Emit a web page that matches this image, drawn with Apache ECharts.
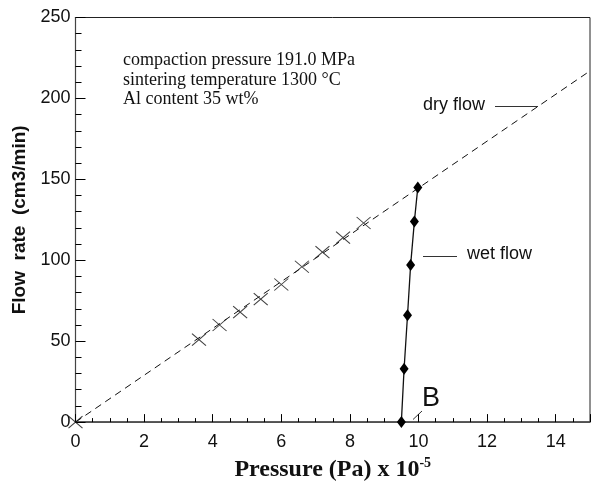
<!DOCTYPE html>
<html>
<head>
<meta charset="utf-8">
<script src="https://cdn.jsdelivr.net/npm/echarts@6/dist/echarts.min.js"></script>
<style>
  html, body { margin: 0; padding: 0; background: #fff; }
  #chart { width: 593px; height: 489px; }
</style>
</head>
<body>
<div id="chart"></div>
<script>
// Dry flow measurements: pressure (x 10^-5 Pa) and flow rate (cm3/min)
const dryPressure = [0, 3.6, 4.2, 4.8, 5.4, 6.0, 6.6, 7.2, 7.8, 8.4];
const dryFlow     = [0, 51, 60, 68, 76, 85, 96, 105, 114, 123];

// Fitted dry-flow line end points
const dryFitPressure = [0, 15];
const dryFitFlow     = [0, 217];

// Wet flow measurements
const wetPressure = [9.5, 9.58, 9.68, 9.77, 9.88, 9.98];
const wetFlow     = [0, 33, 66, 97, 124, 145];

// Axis ranges
const xRange = [0, 15];
const yRange = [0, 250];

const zip = (xs, ys) => xs.map((x, i) => [x, ys[i]]);

const sans = '"Liberation Sans", Arial, Helvetica, sans-serif';
const serif = '"Liberation Serif", "Times New Roman", serif';
const ink = '#111';

const chart = echarts.init(document.getElementById('chart'), null, { renderer: 'canvas' });

chart.setOption({
  animation: false,
  backgroundColor: '#fff',
  grid: {
    left: 75.5, right: 0.5, top: 17.5, bottom: 64,
    show: true, borderColor: '#222', borderWidth: 1, backgroundColor: 'transparent'
  },
  xAxis: {
    type: 'value',
    min: xRange[0], max: xRange[1], interval: 2,
    axisLine: { show: true, lineStyle: { color: '#444', width: 1.5 } },
    axisTick: { show: true, inside: true, length: 8, lineStyle: { color: '#000', width: 1 } },
    minorTick: { show: true, splitNumber: 4, length: 4, lineStyle: { color: '#000', width: 1 } },
    splitLine: { show: false },
    axisLabel: {
      fontFamily: sans, fontSize: 18, color: ink, margin: 11,
      formatter: v => (v > 14 ? '' : String(v))
    },
    name: '{a|Pressure (Pa) x 10}{s|-5}',
    nameLocation: 'middle',
    nameGap: 31,
    nameTextStyle: {
      rich: {
        a: { fontFamily: serif, fontWeight: 'bold', fontSize: 24, color: ink, lineHeight: 28 },
        s: { fontFamily: serif, fontWeight: 'bold', fontSize: 14, color: ink, verticalAlign: 'top', lineHeight: 28, padding: [0, 0, 14, 0] }
      }
    }
  },
  yAxis: {
    type: 'value',
    min: yRange[0], max: yRange[1], interval: 50,
    axisLine: { show: true, lineStyle: { color: '#444', width: 1.2 } },
    axisTick: { show: true, inside: true, length: 10, lineStyle: { color: '#000', width: 1 } },
    minorTick: { show: true, splitNumber: 5, length: 6, lineStyle: { color: '#000', width: 1 } },
    splitLine: { show: false },
    axisLabel: { fontFamily: sans, fontSize: 18, color: ink, margin: 5 },
    name: 'Flow  rate  (cm3/min)',
    nameLocation: 'middle',
    nameGap: 41,
    nameTextStyle: { fontFamily: sans, fontWeight: 'bold', fontSize: 19, color: ink }
  },
  series: [
    {
      name: 'dry fit',
      type: 'line',
      data: zip(dryFitPressure, dryFitFlow),
      showSymbol: false,
      lineStyle: { color: '#111', width: 1, type: [7, 5] },
      z: 2
    },
    {
      name: 'dry flow',
      type: 'scatter',
      data: zip(dryPressure, dryFlow),
      symbol: 'path://M0,0L10,10M10,0L0,10',
      symbolSize: [14, 12],
      itemStyle: { color: 'none', borderColor: '#111', borderWidth: 1 },
      z: 3
    },
    {
      name: 'wet flow',
      type: 'line',
      data: zip(wetPressure, wetFlow),
      symbol: 'diamond',
      symbolSize: [9, 12],
      itemStyle: { color: '#000' },
      lineStyle: { color: '#111', width: 1.3 },
      z: 4
    }
  ],
  graphic: [
    {
      type: 'text', left: 123, top: 51,
      style: {
        text: 'compaction pressure 191.0 MPa\nsintering temperature 1300 °C\nAl content 35 wt%',
        font: '18px ' + serif, fill: ink, lineHeight: 19.5
      }
    },
    {
      type: 'text', left: 423, top: 96,
      style: { text: 'dry flow', font: '18px ' + sans, fill: ink }
    },
    {
      type: 'line', shape: { x1: 495, y1: 106.5, x2: 538, y2: 106.5 },
      style: { stroke: '#333', lineWidth: 1 }
    },
    {
      type: 'text', left: 467, top: 245,
      style: { text: 'wet flow', font: '18px ' + sans, fill: ink }
    },
    {
      type: 'line', shape: { x1: 423, y1: 256.5, x2: 457, y2: 256.5 },
      style: { stroke: '#333', lineWidth: 1 }
    },
    {
      type: 'text', left: 422, top: 385,
      style: { text: 'B', font: '27px ' + sans, fill: ink }
    },
    {
      type: 'line', shape: { x1: 413, y1: 419.5, x2: 422, y2: 411 },
      style: { stroke: '#333', lineWidth: 1 }
    }
  ]
});
</script>
</body>
</html>
